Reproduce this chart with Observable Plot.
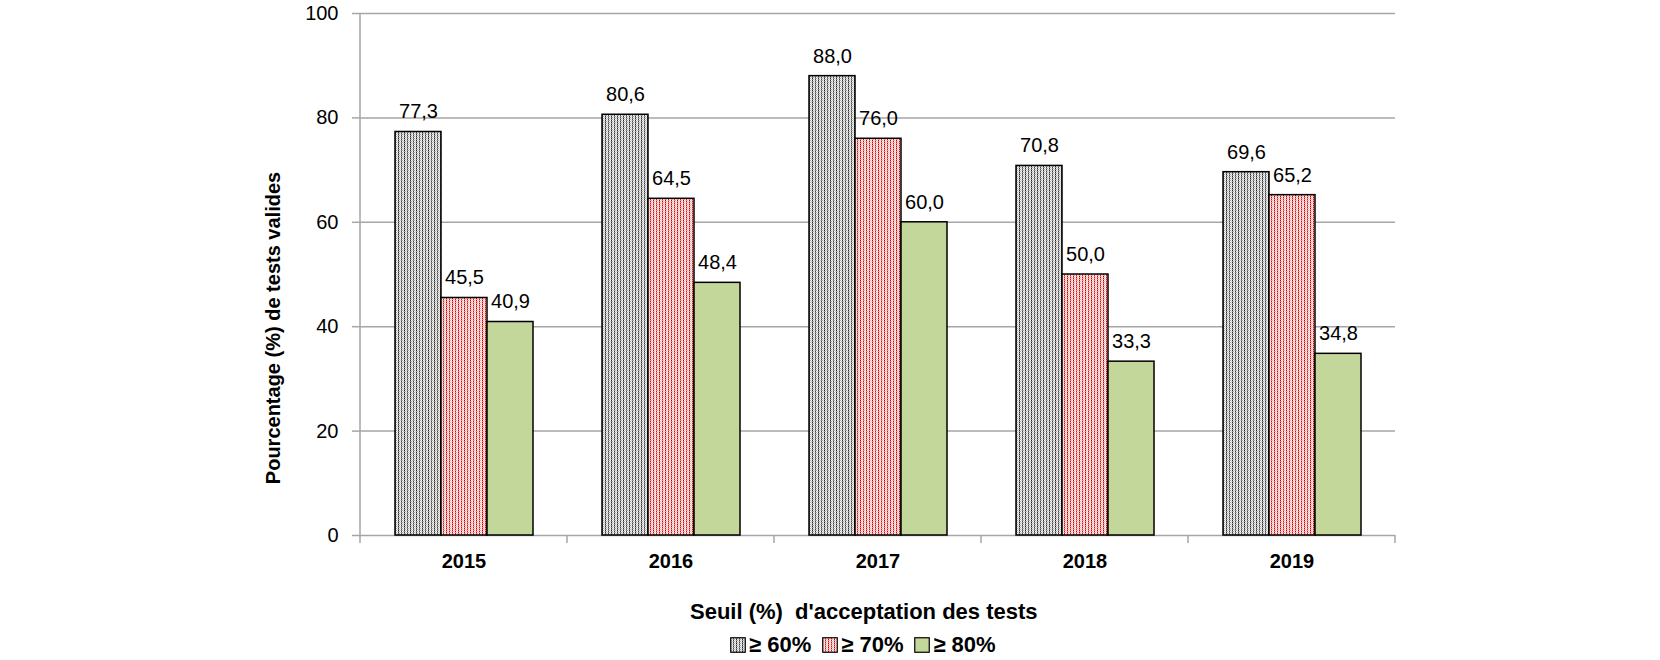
<!DOCTYPE html>
<html><head><meta charset="utf-8">
<script src="https://cdn.jsdelivr.net/npm/d3@7"></script>
<script src="https://cdn.jsdelivr.net/npm/@observablehq/plot@0.6"></script>
<style>
body{margin:0;background:#fff;font-family:"Liberation Sans",Arial,sans-serif;color:#000;}
#wrap{position:relative;width:1660px;height:660px;overflow:hidden;}
#chart{position:absolute;left:0;top:0;}
#title{position:absolute;left:690px;top:601px;font-weight:bold;font-size:22px;line-height:22px;white-space:nowrap;}
#legend{position:absolute;left:730px;top:634px;font-weight:bold;font-size:22px;line-height:22px;white-space:nowrap;display:flex;align-items:center;}
.item{display:flex;align-items:center;margin-right:11px;}
.item svg{margin-right:3px;}
</style></head>
<body>
<svg width="0" height="0" style="position:absolute">
<defs>
<pattern id="p60" width="6" height="4" patternUnits="userSpaceOnUse">
<rect width="6" height="4" fill="#f4f4f4"/>
<rect x="0" y="0" width="1" height="1" fill="#333"/><rect x="0" y="1" width="1" height="1" fill="#888"/>
<rect x="0" y="2" width="1" height="1" fill="#222"/><rect x="0" y="3" width="1" height="1" fill="#999"/>
<rect x="1" y="1" width="1" height="1" fill="#aaa"/><rect x="1" y="3" width="1" height="1" fill="#aaa"/>
<rect x="2" y="0" width="1" height="1" fill="#ccc"/><rect x="2" y="2" width="1" height="1" fill="#ccc"/>
<rect x="3" y="0" width="1" height="1" fill="#999"/><rect x="3" y="1" width="1" height="1" fill="#444"/>
<rect x="3" y="2" width="1" height="1" fill="#999"/><rect x="3" y="3" width="1" height="1" fill="#444"/>
<rect x="4" y="0" width="1" height="1" fill="#aaa"/><rect x="4" y="2" width="1" height="1" fill="#aaa"/>
<rect x="5" y="1" width="1" height="1" fill="#ccc"/><rect x="5" y="3" width="1" height="1" fill="#ccc"/>
</pattern>
<pattern id="p70" width="6" height="4" patternUnits="userSpaceOnUse">
<rect width="6" height="4" fill="#fff4f4"/>
<rect x="0" y="0" width="1" height="1" fill="#c80000"/><rect x="0" y="1" width="1" height="1" fill="#ec8080"/>
<rect x="0" y="2" width="1" height="1" fill="#c00000"/><rect x="0" y="3" width="1" height="1" fill="#ee9090"/>
<rect x="1" y="1" width="1" height="1" fill="#f2a8a8"/><rect x="1" y="3" width="1" height="1" fill="#f2a8a8"/>
<rect x="2" y="0" width="1" height="1" fill="#f8c8c8"/><rect x="2" y="2" width="1" height="1" fill="#f8c8c8"/>
<rect x="3" y="0" width="1" height="1" fill="#ee9090"/><rect x="3" y="1" width="1" height="1" fill="#d01010"/>
<rect x="3" y="2" width="1" height="1" fill="#ee9090"/><rect x="3" y="3" width="1" height="1" fill="#d01010"/>
<rect x="4" y="0" width="1" height="1" fill="#f2a8a8"/><rect x="4" y="2" width="1" height="1" fill="#f2a8a8"/>
<rect x="5" y="1" width="1" height="1" fill="#f8c8c8"/><rect x="5" y="3" width="1" height="1" fill="#f8c8c8"/>
</pattern>
</defs>
</svg>
<div id="wrap">
<div id="chart"></div>
<div id="title">Seuil (%)&nbsp; d'acceptation des tests</div>
<div id="legend"></div>
</div>
<script>
const years = ["2015", "2016", "2017", "2018", "2019"];
const seriesNames = ["≥ 60%", "≥ 70%", "≥ 80%"];
const values60 = [77.3, 80.6, 88.0, 70.8, 69.6];
const values70 = [45.5, 64.5, 76.0, 50.0, 65.2];
const values80 = [40.9, 48.4, 60.0, 33.3, 34.8];
const yTicks = [0, 20, 40, 60, 80, 100];
const fills = ["url(#p60)", "url(#p70)", "#c4d79b"];
const yLabel = "Pourcentage (%) de tests valides";

const seriesValues = [values60, values70, values80];
const rows = years.flatMap((yr, i) => seriesNames.map((s, j) => ({year: yr, s, v: seriesValues[j][i]})));
const fmt = v => v.toFixed(1).replace(".", ",");

const chart = Plot.plot({
  width: 1660, height: 582,
  marginLeft: 358, marginRight: 263, marginTop: 13, marginBottom: 47,
  style: {fontFamily: "'Liberation Sans', Arial, sans-serif", fontSize: "20px", background: "transparent", color: "#000"},
  fx: {domain: years, padding: 0, label: null},
  x: {domain: seriesNames, paddingInner: 0, paddingOuter: 0.73, axis: null},
  y: {domain: [0, 100], label: null},
  color: {domain: seriesNames, range: fills},
  marks: [
    Plot.ruleY(yTicks, {stroke: "#a6a6a6", strokeWidth: 1.5}),
    Plot.barY(rows, {fx: "year", x: "s", y: "v", fill: "s", stroke: "#000", strokeWidth: 1.5}),
    Plot.text(rows, {fx: "year", x: "s", y: "v", text: d => fmt(d.v), dy: -20, fill: "#000", fontSize: 20}),
    Plot.axisY(yTicks, {tickSize: 8, tickPadding: 14, stroke: "#a6a6a6", strokeWidth: 1.5, fill: "#000", fontSize: 20, label: null}),
    Plot.axisFx({anchor: "bottom", tickSize: 0, tickPadding: 18, fontWeight: "bold", fontSize: 20, fill: "#000", label: null})
  ]
});
document.getElementById("chart").appendChild(chart);

// decorations using the library's own scales
const fxs = chart.scale("fx");
const ys = chart.scale("y");
const svg = d3.select(chart);
const g = svg.append("g").attr("stroke", "#a6a6a6").attr("stroke-width", 1.5);
const x0 = fxs.apply(years[0]);
g.append("line").attr("x1", x0).attr("x2", x0).attr("y1", ys.apply(100)).attr("y2", ys.apply(0) + 8);
const edges = years.map(y => fxs.apply(y)).concat([fxs.apply(years[years.length - 1]) + fxs.bandwidth]);
edges.slice(1).forEach(e => {
  g.append("line").attr("x1", e).attr("x2", e).attr("y1", ys.apply(0)).attr("y2", ys.apply(0) + 8);
});
svg.append("text")
  .attr("transform", `translate(273,${(ys.apply(100) + ys.apply(0)) / 2 + 54}) rotate(-90)`)
  .attr("text-anchor", "middle").attr("dominant-baseline", "central")
  .attr("font-weight", "bold").attr("font-size", 20).attr("fill", "#000")
  .text(yLabel);

// legend
const legend = d3.select("#legend");
seriesNames.forEach((s, i) => {
  const it = legend.append("div").attr("class", "item");
  const sw = it.append("svg").attr("width", 16).attr("height", 16);
  sw.append("rect").attr("x", 0.75).attr("y", 0.75).attr("width", 14.5).attr("height", 14.5)
    .attr("fill", fills[i]).attr("stroke", "#000").attr("stroke-width", 1.2);
  it.append("span").text(s);
});
</script>
</body></html>
